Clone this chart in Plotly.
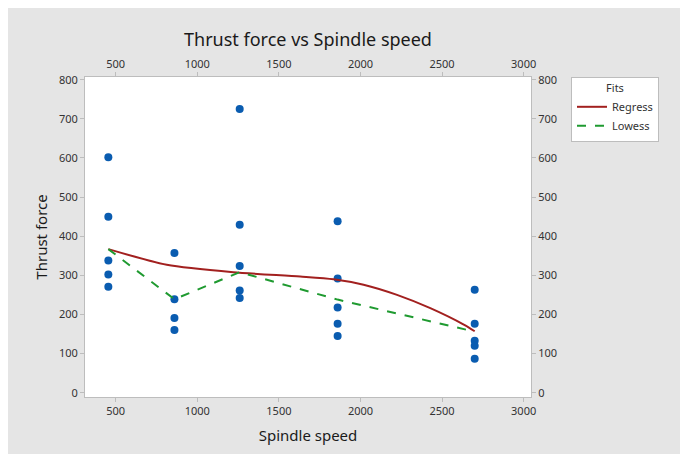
import plotly.graph_objects as go

# Observed data (Spindle speed, Thrust force)
speed = [455]*5 + [860]*4 + [1260]*5 + [1860]*5 + [2700]*5
force = [602, 450, 338, 302, 271,
         357, 239, 191, 160,
         725, 429, 324, 261, 242,
         438, 292, 218, 176, 145,
         263, 176, 133, 120, 87]

# Fitted lines
regress_x = [455, 813, 1221, 1631, 1835, 2019, 2224, 2428, 2633, 2700]
regress_y = [367, 327, 308, 297, 290, 276, 250, 216, 174, 157]
lowess_x = [455, 860, 1260, 1860, 2700]
lowess_y = [367, 239, 308, 238, 156]

x_ticks = [500, 1000, 1500, 2000, 2500, 3000]
y_ticks = [0, 100, 200, 300, 400, 500, 600, 700, 800]

FONT = "Noto Sans"
AXC = "#bdbdbd"
TXT = "#333333"
DARK = "#1a1a1a"

# page body has an 8px margin; figure covers the grey panel
W, H = 674, 446
L, R, T, B = 77, 151, 69, 57
PW, PH = W - L - R, H - T - B

fig = go.Figure()
fig.add_trace(go.Scatter(x=speed, y=force, mode="markers",
                         marker=dict(color="#0a5cb0", size=8),
                         showlegend=False, hoverinfo="x+y"))
fig.add_trace(go.Scatter(x=regress_x, y=regress_y, mode="lines", name="Regress",
                         line=dict(color="#a2201f", width=2, shape="spline", smoothing=0.7)))
fig.add_trace(go.Scatter(x=lowess_x, y=lowess_y, mode="lines", name="Lowess",
                         line=dict(color="#1f9a30", width=2, dash="dash")))
# invisible trace to show the mirrored (top/right) axes
fig.add_trace(go.Scatter(x=speed, y=force, mode="markers", xaxis="x2", yaxis="y2",
                         marker=dict(opacity=0), showlegend=False, hoverinfo="skip"))

axis_common = dict(showgrid=False, zeroline=False, showline=True, linecolor=AXC,
                   linewidth=1, ticks="outside", ticklen=4, tickcolor=AXC, automargin=False,
                   tickfont=dict(family=FONT, size=11, color=TXT))

fig.update_layout(
    width=W, height=H,
    margin=dict(l=L, r=R, t=T, b=B, autoexpand=False),
    paper_bgcolor="#e5e5e5", plot_bgcolor="white",
    title=dict(text="Thrust force vs Spindle speed", x=(L + PW / 2) / W, xanchor="center",
               y=1 - 32 / H, yanchor="middle",
               font=dict(family=FONT, size=18, color=DARK)),
    xaxis=dict(range=[312, 3045], tickvals=x_ticks,
               title=dict(text="Spindle speed", font=dict(family=FONT, size=15, color=DARK), standoff=13),
               **axis_common),
    yaxis=dict(range=[-11, 807], tickvals=y_ticks,
               title=dict(text="Thrust force", font=dict(family=FONT, size=15, color=DARK), standoff=7),
               **axis_common),
    xaxis2=dict(range=[312, 3045], tickvals=x_ticks, overlaying="x", side="top", **axis_common),
    yaxis2=dict(range=[-11, 807], tickvals=y_ticks, overlaying="y", side="right", **axis_common),
    legend=dict(x=(563 - L) / PW, y=1.0, xanchor="left", yanchor="top",
                bgcolor="white", bordercolor="#bdbdbd", borderwidth=1,
                font=dict(family=FONT, size=11, color=TXT),
                title=dict(text="Fits", side="top center", font=dict(family=FONT, size=11, color=TXT)),
                tracegroupgap=0, itemwidth=30),
)

fig.write_html("out.html")
